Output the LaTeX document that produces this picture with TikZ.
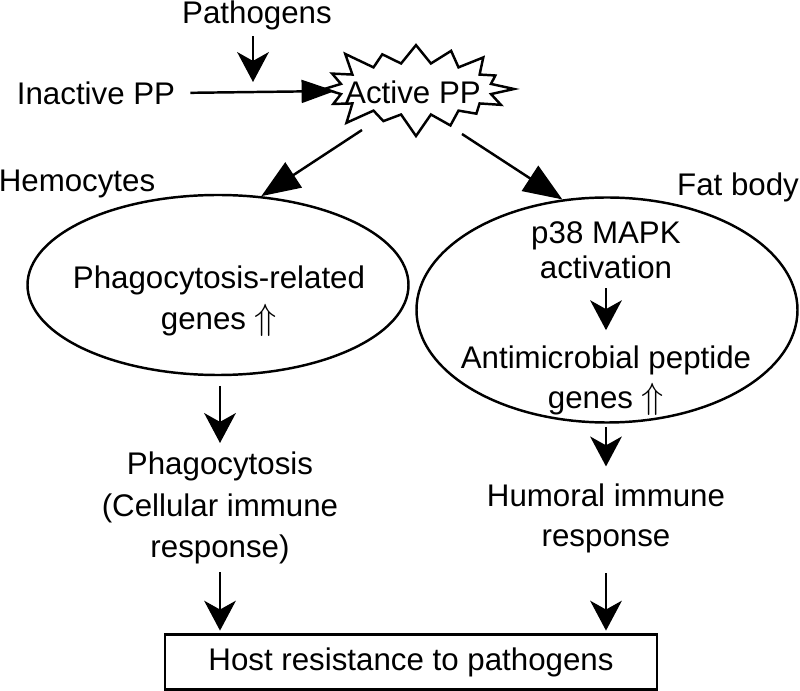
\documentclass[tikz,border=0pt]{standalone}
\usepackage{fontspec}
\setmainfont{Liberation Sans}
\usetikzlibrary{shapes.geometric}
\usetikzlibrary{shapes.symbols}
\usetikzlibrary{arrows.meta}

\newcommand{\upup}{\smash{\fontsize{22}{22}\selectfont$\Uparrow$}}

\begin{document}
\begin{tikzpicture}[x=0.2mm,y=-0.2mm,line width=1.4pt,
  every node/.style={font=\fontsize{17.8}{23.5}\selectfont,align=center,inner sep=0pt},
  cell/.style={draw,ellipse,minimum width=7.62cm},
  arr/.style={-{Stealth[length=17pt,width=18pt,inset=5pt]}},
  harr/.style={-{Triangle[length=19pt,width=13pt]}},
  bigarr/.style={-{Triangle[length=22pt,width=17pt]}}]
  \useasboundingbox (0,0) rectangle (800,691);

  \node (path) at (257,15) {Pathogens};
  \node (inact) at (96,93) {Inactive PP};
  \node (act) at (416,89)[draw,starburst,starburst points=16,starburst point height=0.5cm,
    minimum width=4.06cm,minimum height=2.04cm]{};
  \node (actxt) at (413,92) {Active PP};
  \coordinate (hit) at (253,82);
  \coordinate (actin) at (335,91);

  \node (hemo) at (77,184) {Hemocytes};
  \node (fat) at (738,187) {Fat body};

  \node (lcell) at (218,285)[cell,minimum height=3.6cm]{};
  \node (rcell) at (607,310)[cell,minimum height=4.5cm]{};
  \coordinate (lout) at (362,130);
  \coordinate (rout) at (462,134);

  \node (lg) at (219,301) {Phagocytosis-related\\[0.3pt]genes \upup};
  \node (p38) at (606,250) {p38 MAPK\\[-3.7pt]activation};
  \node (amp) at (606,380) {Antimicrobial peptide\\[-0.8pt]genes \upup};

  \node (phago) at (220,508) {Phagocytosis\\(Cellular immune\\response)};
  \node (humo) at (606,518) {Humoral immune\\[-0.8pt]response};

  \node (host) at (411,662)[draw,minimum width=9.84cm,minimum height=1.1cm]{Host resistance to pathogens};

  \draw[arr,shorten <=3pt] (hit |- path.south) -- (hit);
  \draw[harr,shorten <=8pt] (inact.east) -- (actin);
  \draw[bigarr] (lout) -- (lcell.64);
  \draw[bigarr] (rout) -- (rcell.112);
  \draw[arr,shorten <=5pt,shorten >=8pt] (p38) -- (amp);
  \draw[arr,shorten <=5.5pt,shorten >=4.5pt] (lcell.south -| phago.north) -- (phago.north);
  \draw[arr,shorten <=2pt,shorten >=9pt] (rcell.south -| humo.north) -- (humo.north);
  \draw[arr,shorten <=4pt,shorten >=1.5pt] (phago.south) -- (phago.south |- host.north);
  \draw[arr,shorten <=11pt,shorten >=1.5pt] (humo.south) -- (humo.south |- host.north);
\end{tikzpicture}
\end{document}
